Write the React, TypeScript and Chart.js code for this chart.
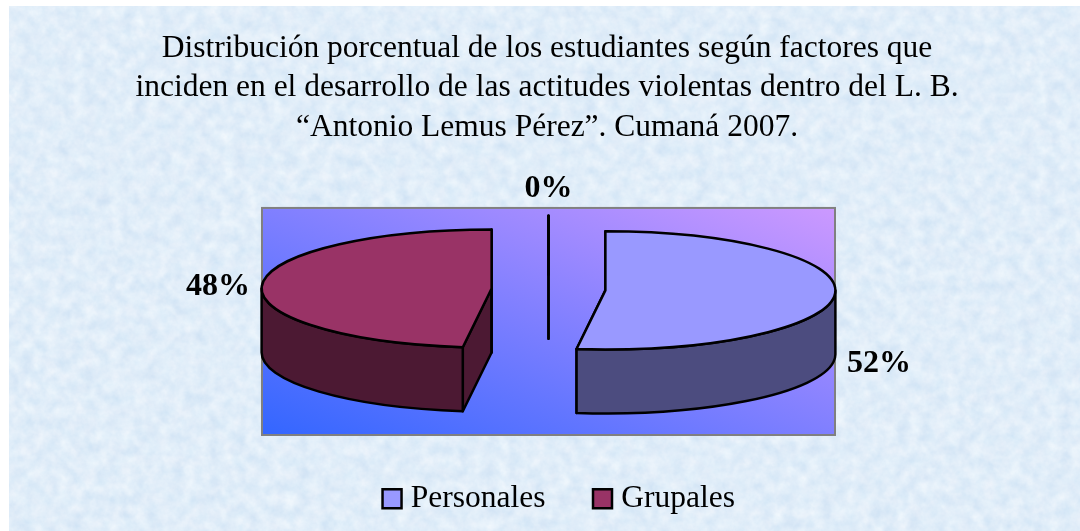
import React, { useEffect, useRef } from "react";
import { Chart, registerables } from "chart.js";

Chart.register(...registerables);

const titleLines = [
  "Distribución porcentual de los estudiantes según factores que",
  "inciden en el desarrollo de las actitudes violentas dentro del L. B.",
  "“Antonio Lemus Pérez”. Cumaná 2007.",
];
const categories = ["Personales", "Grupales", "Otros"];
const values = [52, 48, 0];
const topColors = ["#9999FF", "#993366", "#CCFFFF"];
const wallColors = ["#4C4C7F", "#4C1933", "#667F7F"];

const FONT = "'Liberation Serif', 'Times New Roman', serif";
const SQUASH = 0.257;
const DEPTH = 64;
const labelNudges = [
  { dx: 44, dy: 70 },
  { dx: -44, dy: 2 },
  { dx: 0, dy: -27 },
];

const pie3d = {
  id: "pie3d",
  afterLayout(chart: any) {
    chart.titleBlock.left = 0;
    chart.titleBlock.right = 1094;
    chart.legend.left = 0;
    chart.legend.right = 1124;
    chart.legend.top = chart.chartArea.bottom - 6;
  },
  beforeDraw(chart: any) {
    const { ctx, chartArea: a } = chart;
    const w = a.width;
    const h = a.height;
    const k = (w * h) / (w * w + h * h);
    const mx = a.left + w / 2;
    const my = a.top + h / 2;
    const g = ctx.createLinearGradient(mx - h * k, my + w * k, mx + h * k, my - w * k);
    g.addColorStop(0, "#3366FF");
    g.addColorStop(1, "#CC99FF");
    ctx.save();
    ctx.fillStyle = g;
    ctx.fillRect(a.left, a.top, a.width, a.height);
    ctx.strokeStyle = "#808080";
    ctx.lineWidth = 2;
    ctx.strokeRect(a.left, a.top, a.width, a.height);
    ctx.restore();
  },
  beforeDatasetDraw() {
    return false;
  },
  afterDatasetsDraw(chart: any) {
    const { ctx } = chart;
    const arcs = chart.getDatasetMeta(0).data;
    ctx.save();
    ctx.lineWidth = 2.5;
    ctx.lineJoin = "round";
    ctx.strokeStyle = "#000";
    arcs.forEach((arc: any, i: number) => {
      const { startAngle: s, endAngle: e, outerRadius: R, options } = arc;
      const mid = (s + e) / 2;
      const ry = R * SQUASH;
      const cx = arc.x + Math.cos(mid) * options.offset;
      const cy = arc.y - DEPTH / 2 + Math.sin(mid) * options.offset * SQUASH;
      const pt = (t: number) => [cx + Math.cos(t) * R, cy + Math.sin(t) * ry];

      // cut faces
      [s, e].forEach((t) => {
        const [px, py] = pt(t);
        ctx.beginPath();
        ctx.moveTo(cx, cy);
        ctx.lineTo(px, py);
        ctx.lineTo(px, py + DEPTH);
        ctx.lineTo(cx, cy + DEPTH);
        ctx.closePath();
        ctx.fillStyle = wallColors[i];
        ctx.fill();
        ctx.stroke();
      });

      // outer wall (front half only)
      const a0 = Math.max(s, 0);
      const a1 = Math.min(e, Math.PI);
      if (a1 > a0) {
        ctx.beginPath();
        ctx.ellipse(cx, cy, R, ry, 0, a0, a1);
        ctx.ellipse(cx, cy + DEPTH, R, ry, 0, a1, a0, true);
        ctx.closePath();
        ctx.fillStyle = wallColors[i];
        ctx.fill();
        ctx.stroke();
      }

      // top surface
      ctx.beginPath();
      ctx.moveTo(cx, cy);
      ctx.ellipse(cx, cy, R, ry, 0, s, e);
      ctx.closePath();
      ctx.fillStyle = topColors[i];
      ctx.fill();
      ctx.stroke();

      // percentage label
      const [lx, ly] = pt(mid);
      ctx.fillStyle = "#000";
      ctx.font = `bold 32px ${FONT}`;
      ctx.textAlign = "center";
      ctx.textBaseline = "middle";
      ctx.fillText(`${values[i]}%`, lx + labelNudges[i].dx, ly + labelNudges[i].dy);
    });
    ctx.restore();
  },
};

const noise =
  "data:image/svg+xml," +
  encodeURIComponent(
    `<svg xmlns='http://www.w3.org/2000/svg' width='1071' height='525'><filter id='n' color-interpolation-filters='sRGB'><feTurbulence type='fractalNoise' baseFrequency='0.08' numOctaves='4' seed='7'/><feColorMatrix values='.14 .04 0 0 .79  .08 .04 0 0 .87  .03 .02 0 0 .95  0 0 0 0 1'/></filter><rect width='100%' height='100%' filter='url(#n)'/></svg>`
  );

export default function App() {
  const ref = useRef<HTMLCanvasElement>(null);
  useEffect(() => {
    const chart = new Chart(ref.current as HTMLCanvasElement, {
      type: "pie",
      data: {
        labels: categories,
        datasets: [
          {
            data: values,
            backgroundColor: topColors,
            borderColor: "#000",
            borderWidth: 2.5,
            offset: 57,
          } as any,
        ],
      },
      plugins: [pie3d as any],
      options: {
        responsive: false,
        animation: false,
        radius: 230,
        layout: { padding: { left: 262, right: 245, top: 0, bottom: 0.5 } },
        plugins: {
          tooltip: { enabled: false },
          title: {
            display: true,
            text: titleLines,
            color: "#000",
            font: { family: FONT, size: 31.5, weight: "normal", lineHeight: 1.248 },
            padding: { top: 29, bottom: 61 },
          },
          legend: {
            position: "bottom",
            labels: {
              color: "#000",
              font: { family: FONT, size: 31.5 },
              usePointStyle: true,
              pointStyle: "rect",
              boxWidth: 6,
              boxHeight: 19,
              padding: 54,
              filter: (item: any) => values[item.index] > 0,
            },
          },
        },
      } as any,
    });
    return () => chart.destroy();
  }, []);
  return (
    <div style={{ position: "absolute", left: 0, top: 0, width: 1080, height: 531, overflow: "hidden", background: "#fff" }}>
      <div
        style={{
          position: "absolute",
          left: 9,
          top: 6,
          width: 1071,
          height: 525,
          backgroundImage: `url("${noise}")`,
        }}
      />
      <canvas ref={ref} width={1080} height={531} style={{ position: "absolute", left: 0, top: 0, display: "block" }} />
    </div>
  );
}
